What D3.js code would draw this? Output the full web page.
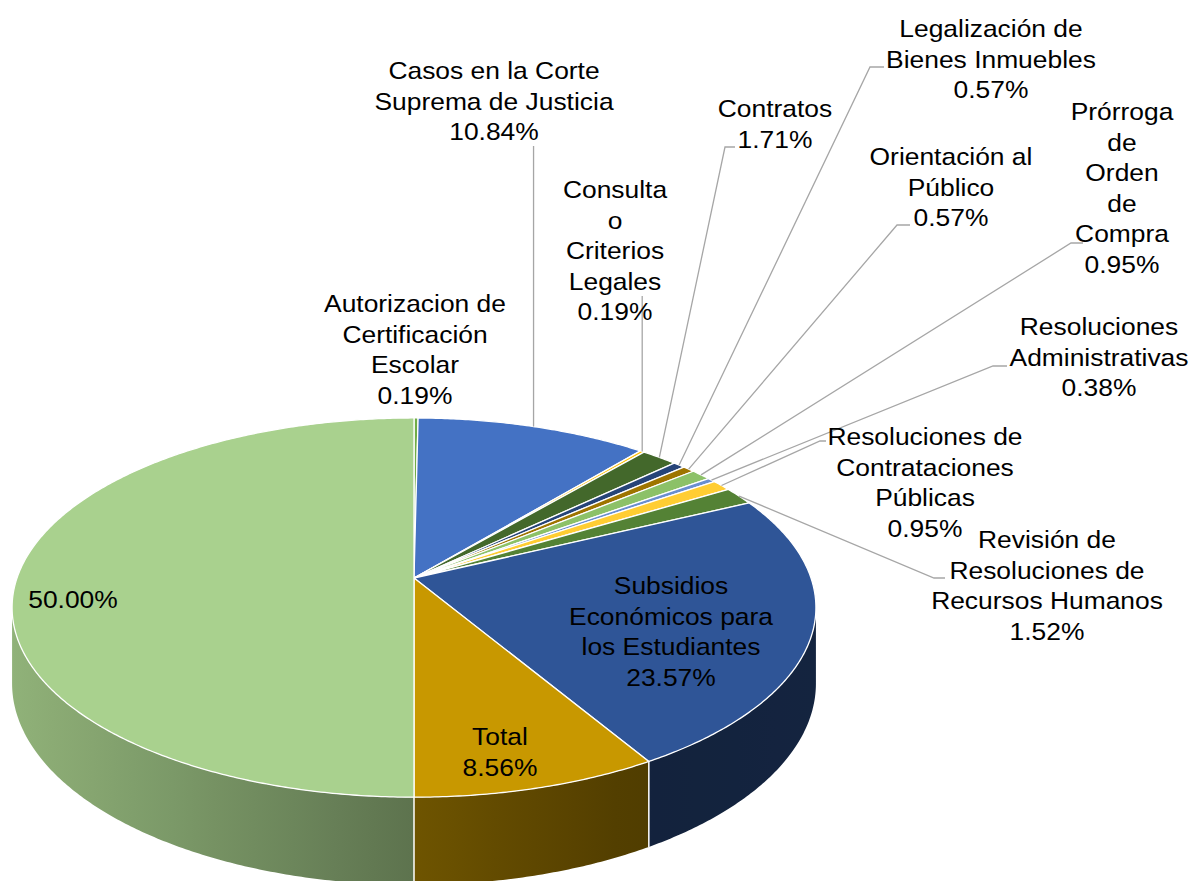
<!DOCTYPE html>
<html>
<head>
<meta charset="utf-8">
<script src="https://cdn.jsdelivr.net/npm/d3@7"></script>
<style>
  body { margin: 0; background: #fff; }
  svg { display: block; }
  text { font-family: "Liberation Sans", Arial, sans-serif; fill: #000; }
</style>
</head>
<body>
<div id="chart"></div>
<script>
// slice data, clockwise from 12 o'clock
const categories = [
    "Autorizacion de\nCertificación\nEscolar",
    "Casos en la Corte\nSuprema de Justicia",
    "Consulta\no\nCriterios\nLegales",
    "Contratos",
    "Legalización de\nBienes Inmuebles",
    "Orientación al\nPúblico",
    "Prórroga\nde\nOrden\nde\nCompra",
    "Resoluciones\nAdministrativas",
    "Resoluciones de\nContrataciones\nPúblicas",
    "Revisión de\nResoluciones de\nRecursos Humanos",
    "Subsidios\nEconómicos para\nlos Estudiantes",
    "Total",
    ""
];
const values = [0.19, 10.84, 0.19, 1.71, 0.57, 0.57, 0.95, 0.38, 0.95, 1.52, 23.57, 8.56, 50.00];
const sliceColors = ["#70AD47", "#4472C4", "#FFC000", "#43682B", "#264478", "#9E7400",
    "#8CC168", "#698ED0", "#FFCD33", "#548235", "#2F5597", "#C89800", "#A9D18E"];

// label placement (first baseline) and leader lines
const labelLayout = [
    { x: 415, y: 312 },
    { x: 494, y: 79, lead: "v", top: 146 },
    { x: 615, y: 198, lead: "v", top: 296 },
    { x: 775, y: 117, lead: [735, 725, 147] },
    { x: 991, y: 37, lead: [884, 870, 67] },
    { x: 951, y: 165, lead: [910, 897, 225] },
    { x: 1122, y: 120, lead: [1083, 1071, 243] },
    { x: 1099, y: 335, lead: [1007, 993, 366] },
    { x: 925, y: 445, lead: [826, 820, 441] },
    { x: 1047, y: 548, lead: [945, 934, 578] },
    { x: 671, y: 594 },
    { x: 500, y: 745 },
    { x: 73, y: 608 }
];

const width = 1194, height = 881;
const cx = 414, cy = 578, A = 397, B = 185, K = 0.156, H = 74;
const lineGap = 30.6, fontSize = 24, stretch = 1.1;

// perspective projection of a point of the top face
const proj = (t, r = 1) => {
    const u = r * Math.sin(t), v = -r * Math.cos(t), d = 1 - K * v;
    return [cx + A * u / d, cy + B * v / d];
};
const projDown = (t) => {
    const p = proj(t), v = -Math.cos(t);
    return [p[0], p[1] + H / (1 - K * v)];
};

const svg = d3.select("#chart").append("svg")
    .attr("width", width)
    .attr("height", height);
const defs = svg.append("defs");

const data = categories.map((c, i) => ({ name: c, value: values[i], color: sliceColors[i] }));
const arcs = d3.pie().sort(null).value(d => d.value).startAngle(0).endAngle(2 * Math.PI)(data);

const step = Math.PI / 360;
const sample = (a0, a1) => {
    const n = Math.max(2, Math.ceil((a1 - a0) / step));
    return d3.range(n + 1).map(i => a0 + (a1 - a0) * i / n);
};

// side walls, shaded darker to the right
const shadeX = [12, 414, 640, 816];
const shade = d3.scaleLinear().domain(shadeX).range([0.85, 0.55, 0.4, 0.42]).clamp(true);
const silL = Math.acos(-K), silR = 2 * Math.PI - silL;
const walls = svg.append("g");
arcs.forEach((a, i) => {
    const s = Math.max(a.startAngle, silL), e = Math.min(a.endAngle, silR);
    if (e <= s) return;
    const base = d3.rgb(a.data.color);
    const grad = defs.append("linearGradient")
        .attr("id", "wall" + i)
        .attr("gradientUnits", "userSpaceOnUse")
        .attr("x1", shadeX[0]).attr("x2", shadeX[3])
        .attr("y1", 0).attr("y2", 0);
    d3.range(0, 21).forEach(k => {
        const x = shadeX[0] + (shadeX[3] - shadeX[0]) * k / 20, f = shade(x);
        grad.append("stop")
            .attr("offset", k / 20)
            .attr("stop-color", d3.rgb(base.r * f, base.g * f, base.b * f).formatHex());
    });
    const ts = sample(s, e);
    const pts = ts.map(t => proj(t)).concat(ts.slice().reverse().map(t => projDown(t)));
    walls.append("path")
        .attr("d", d3.line()(pts) + "Z")
        .attr("fill", `url(#wall${i})`);
    if (a.startAngle > silL && a.startAngle < silR) {
        const p = proj(a.startAngle), q = projDown(a.startAngle);
        walls.append("line")
            .attr("x1", p[0]).attr("y1", p[1])
            .attr("x2", q[0]).attr("y2", q[1])
            .attr("stroke", "#fff").attr("stroke-width", 1.5);
    }
});

// top face
svg.append("g").selectAll("path")
    .data(arcs)
    .join("path")
    .attr("d", a => d3.line()([[cx, cy], ...sample(a.startAngle, a.endAngle).map(t => proj(t))]) + "Z")
    .attr("fill", a => a.data.color)
    .attr("stroke", "#fff")
    .attr("stroke-width", 1.3)
    .attr("stroke-linejoin", "round");

// leader lines
const leaders = svg.append("g");
arcs.forEach((a, i) => {
    const L = labelLayout[i];
    if (!L.lead) return;
    const end = proj((a.startAngle + a.endAngle) / 2);
    let pts;
    if (L.lead === "v") pts = [[end[0], L.top], end];
    else pts = [[L.lead[0], L.lead[2]], [L.lead[1], L.lead[2]], end];
    leaders.append("path")
        .attr("d", d3.line()(pts))
        .attr("fill", "none")
        .attr("stroke", "#A6A6A6")
        .attr("stroke-width", 1.3);
});

// labels
const pct = d3.format(".2f");
const labels = svg.append("g");
arcs.forEach((a, i) => {
    const L = labelLayout[i];
    const lines = (a.data.name ? a.data.name.split("\n") : []).concat(pct(a.data.value) + "%");
    lines.forEach((t, j) => {
        labels.append("text")
            .attr("transform", `translate(${L.x},${L.y + j * lineGap}) scale(${stretch},1)`)
            .attr("text-anchor", "middle")
            .style("font-size", fontSize + "px")
            .text(t);
    });
});
</script>
</body>
</html>
